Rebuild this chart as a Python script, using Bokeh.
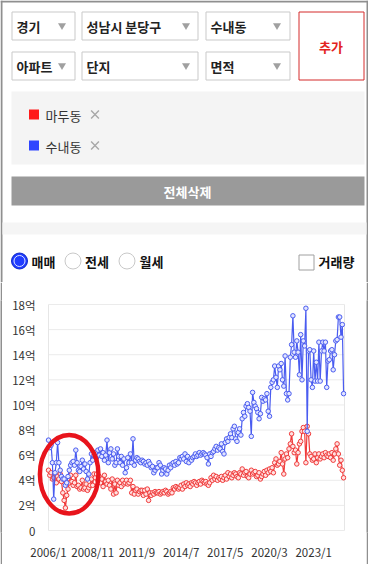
from bokeh.plotting import figure
from bokeh.models import Range1d
from bokeh.layouts import column, row
from bokeh.embed import file_html
from bokeh.resources import INLINE
from bokeh.core.properties import value

FONT = "Noto Sans CJK KR"

# ---------------- data ----------------
SERIES_NAMES = ["마두동", "수내동"]
SERIES_COLORS = ["#ff1a1a", "#2f45ff"]
LINE_COLORS = ["#f03a3a", "#4a5cf0"]

MONTH_TICKS = [0, 34, 68, 102, 136, 170, 204]
MONTH_LABELS = ["2006/1", "2008/11", "2011/9", "2014/7", "2017/5", "2020/3", "2023/1"]
Y_TICKS = [0, 2, 4, 6, 8, 10, 12, 14, 16, 18]
Y_LABELS = ["0", "2억", "4억", "6억", "8억", "10억", "12억", "14억", "16억", "18억"]

# 마두동 (red), monthly from 2006/1, unit: 억
madu = [
    4.8, 4.4, 4.6, 4.1, 4.2, 4.5, 3.8, 4.3, 4.1, 4.5, 3.9, 3.0,
    2.4, 1.8, 2.8, 3.3, 3.8, 4.4, 3.9, 3.6, 3.8, 4.4, 3.5, 3.6,
    3.3, 3.4, 4.0, 3.3, 3.4, 3.7, 3.2, 3.4, 3.6, 4.1, 3.6, 4.5,
    4.2, 4.5, 4.0, 4.3, 3.8, 4.1, 3.5, 4.4, 3.9, 3.7, 4.0, 3.6,
    3.3, 4.1, 2.9, 3.7, 3.0, 4.0, 3.6, 3.8, 3.5, 4.0, 3.7, 3.8,
    4.0, 3.7, 3.8, 4.0, 3.0, 3.5, 2.9, 3.2, 3.3, 2.9, 3.1, 3.2,
    3.2, 2.8, 3.2, 2.9, 3.3, 2.4, 3.0, 2.8, 3.0, 2.9, 3.1, 3.0,
    3.0, 3.1, 2.9, 3.0, 3.1, 3.0, 3.2, 3.1, 2.9, 3.0, 3.1, 3.0,
    3.4, 3.3, 3.5, 3.4, 3.3, 3.4, 3.6, 3.3, 3.7, 3.5, 3.8, 3.6,
    3.7, 3.5, 3.8, 3.7, 3.9, 3.8, 3.6, 3.8, 3.9, 3.7, 4.0, 3.9,
    3.8, 3.9, 3.7, 3.6, 3.8, 4.2, 4.0, 4.4, 4.1, 4.3, 4.0, 4.2,
    4.1, 4.3, 4.0, 4.2, 4.4, 4.1, 4.6, 4.3, 4.5, 4.2, 4.4, 4.6,
    4.5, 4.3, 4.2, 4.6, 4.5, 4.9, 4.4, 4.6, 4.7, 4.3, 4.2, 4.5,
    4.8, 4.5, 4.6, 4.7, 4.3, 4.4, 4.6, 4.1, 4.3, 4.5, 4.7, 4.4,
    4.8, 4.6, 4.9, 4.7, 5.0, 4.6, 5.4, 5.7, 5.2, 5.3, 5.5, 6.2,
    5.3, 4.5, 5.7, 6.1, 5.8, 6.5, 6.9, 7.7, 6.7, 6.2, 6.4, 5.3,
    6.2, 6.9, 7.1, 7.9, 8.2, 7.9, 5.4, 8.3, 7.7, 6.1, 5.9, 5.6,
    5.7, 6.1, 5.4, 5.8, 6.1, 5.7, 5.9, 6.1, 5.8, 6.2, 6.0, 5.9,
    6.1, 5.8, 6.2, 5.6, 6.1, 6.5, 6.9, 6.1, 5.2, 5.6, 4.8, 4.2,
]

# 수내동 (blue), monthly from 2006/1, unit: 억
sunae = [
    7.2, 6.6, 6.8, 5.4, 2.5, 4.6, 5.4, 7.0, 5.4, 4.8, 4.3, 4.1,
    4.1, 3.6, 3.8, 4.3, 4.8, 5.2, 5.4, 5.5, 5.2, 6.4, 5.4, 4.8,
    4.7, 5.1, 5.6, 4.9, 5.3, 4.7, 4.1, 4.5, 5.4, 6.1, 5.6, 6.0,
    6.2, 5.8, 6.4, 6.0, 6.5, 5.9, 6.2, 5.6, 6.0, 7.2, 5.4, 6.2,
    6.5, 5.7, 6.1, 5.2, 5.4, 6.5, 5.9, 5.4, 5.9, 5.2, 5.7, 4.6,
    5.0, 5.8, 5.4, 6.1, 5.4, 7.3, 5.2, 5.6, 5.8, 5.7, 5.5, 5.4,
    5.6, 5.5, 5.3, 5.4, 5.2, 5.5, 5.3, 5.0, 5.1, 4.6, 4.8, 5.0,
    5.0, 5.4, 5.2, 4.5, 4.8, 5.0, 4.9, 4.5, 4.8, 5.2, 5.0, 5.3,
    5.4, 5.2, 5.5, 5.3, 5.4, 5.8, 5.7, 5.9, 5.7, 6.1, 5.5, 5.9,
    5.4, 5.7, 5.6, 5.8, 5.9, 6.1, 5.9, 6.0, 6.2, 6.0, 6.1, 6.2,
    6.1, 6.0, 5.8, 5.3, 6.1, 5.9, 6.2, 6.3, 6.5, 6.7, 6.4, 6.6,
    6.5, 6.9, 6.3, 6.1, 7.0, 7.3, 7.1, 7.4, 7.7, 7.4, 8.1, 8.3,
    7.3, 7.1, 7.8, 8.1, 7.6, 8.9, 9.4, 9.1, 9.9, 10.1, 9.8, 9.5,
    7.5, 11.0, 10.2, 9.9, 9.7, 9.4, 8.9, 9.3, 10.6, 10.3, 10.5, 10.4,
    10.9, 9.5, 9.1, 11.4, 11.8, 12.0, 13.1, 12.2, 11.4, 13.1, 12.8, 13.3,
    12.0, 11.5, 13.9, 10.9, 10.4, 10.9, 13.8, 14.8, 17.1, 14.2, 13.8, 15.1,
    14.2, 12.4, 15.6, 12.0, 15.1, 14.7, 17.7, 7.9, 14.3, 14.4, 12.0, 11.4,
    14.3, 11.9, 13.4, 11.9, 15.0, 11.9, 14.3, 15.0, 14.3, 15.0, 11.4, 13.5,
    13.6, 14.3, 14.4, 12.8, 14.0, 15.1, 15.2, 17.0, 17.0, 15.4, 16.4, 10.9,
]
months = list(range(len(madu)))

DROPDOWN_TEXTS = ["경기", "성남시 분당구", "수내동", "아파트", "단지", "면적"]
RADIO_TEXTS = ["매매", "전세", "월세"]
CHECK_TEXT = "거래량"
ADD_TEXT = "추가"
CLEAR_TEXT = "전체삭제"

# ---------------- page geometry (page pixel coordinates) ----------------
PAGE_L, PAGE_T = 8, 8          # body margin
TOTAL_W, TOTAL_H = 368, 566
SPLIT_Y = 290                  # page y where the chart figure starts
STRIP = 2                      # outer panel border thickness
BORDER_COLOR = "#8f8f8f"

H_TOP = SPLIT_Y - PAGE_T
H_CHART = TOTAL_H - H_TOP - STRIP
W_CHART = TOTAL_W - 2 * STRIP


def bare(width, height, fill):
    f = figure(width=width, height=height, x_axis_type=None, y_axis_type=None,
               output_backend="svg", toolbar_location=None, min_border=0, title=None)
    f.grid.visible = False
    f.outline_line_color = None
    f.background_fill_color = fill
    f.border_fill_color = fill
    return f


# ---------------- top panel ----------------
ui = figure(width=TOTAL_W, height=H_TOP,
            x_range=Range1d(PAGE_L, PAGE_L + TOTAL_W), y_range=Range1d(SPLIT_Y, PAGE_T),
            x_axis_type=None, y_axis_type=None, output_backend="svg",
            toolbar_location=None, min_border=0, title=None)
ui.grid.visible = False
ui.outline_line_color = None
ui.background_fill_color = "white"
ui.border_fill_color = "white"

# outer panel border (left, right, top)
ui.quad(left=[PAGE_L, PAGE_L + TOTAL_W - STRIP, PAGE_L],
        right=[PAGE_L + STRIP, PAGE_L + TOTAL_W, PAGE_L + TOTAL_W],
        top=[PAGE_T, PAGE_T, PAGE_T], bottom=[SPLIT_Y, SPLIT_Y, PAGE_T + STRIP],
        fill_color=BORDER_COLOR, line_color=None)

# dropdown boxes
dd_left = [19, 89, 213, 19, 89, 213]
dd_right = [82, 205, 297, 82, 205, 297]
dd_top = [19, 19, 19, 59, 59, 59]
dd_bot = [47, 47, 47, 87, 87, 87]
ui.quad(left=[v + 0.5 for v in dd_left], right=[v + 0.5 for v in dd_right],
        top=[v + 0.5 for v in dd_top], bottom=[v + 0.5 for v in dd_bot],
        fill_color="white", line_color="#c9c9c9", line_width=1)
dd_text_x = [v + 5 for v in dd_left]
dd_text_y = [(t + b) / 2 + 0.5 for t, b in zip(dd_top, dd_bot)]
ui.text(x=dd_text_x, y=dd_text_y, text=DROPDOWN_TEXTS, text_font=value(FONT),
        text_font_size="13px", text_font_style="bold", text_color="#222222",
        text_baseline="middle", text_align="left")
tri_x = [69.5, 193.5, 284.5, 69.5, 193.5, 284.5]
ui.scatter(x=tri_x, y=[(t + b) / 2 for t, b in zip(dd_top, dd_bot)], marker="inverted_triangle",
           size=8, fill_color="#a0a0a0", line_color=None)

# add button
ui.quad(left=[306.5], right=[371.5], top=[19.5], bottom=[87.5],
        fill_color="white", line_color="#d42a2a", line_width=1)
ui.text(x=[338.5], y=[53.5], text=[ADD_TEXT], text_font=value(FONT), text_font_size="13px",
        text_font_style="bold", text_color="#e3231e", text_baseline="middle", text_align="center")

# legend panel
ui.quad(left=[19], right=[372], top=[99], bottom=[172], fill_color="#f4f4f4", line_color=None)
leg_y = [122, 153]
ui.scatter(x=[41.5, 41.5], y=leg_y, marker="square", size=10,
           fill_color=SERIES_COLORS, line_color=None)
ui.text(x=[53, 53], y=[v + 0.5 for v in leg_y], text=SERIES_NAMES, text_font=value(FONT),
        text_font_size="13px", text_color="#333333", text_baseline="middle", text_align="left")
ui.scatter(x=[102.5, 102.5], y=leg_y, marker="x", size=11, line_color="#a8a8a8", line_width=1.4)

# clear-all button
ui.quad(left=[19], right=[372], top=[184], bottom=[213], fill_color="#9a9a9a", line_color=None)
ui.text(x=[195], y=[199], text=[CLEAR_TEXT], text_font=value(FONT), text_font_size="13px",
        text_font_style="bold", text_color="white", text_baseline="middle", text_align="center")

# separator band
ui.quad(left=[PAGE_L + STRIP], right=[PAGE_L + TOTAL_W - STRIP], top=[230], bottom=[242],
        fill_color="#f5f5f5", line_color=None)

# radios
radio_x = [27, 80.5, 134.5]
radio_y = 268.5
ui.scatter(x=radio_x[1:], y=[radio_y] * 2, size=16, fill_color="white",
           line_color="#c8c8c8", line_width=1)
ui.scatter(x=radio_x[:1], y=[radio_y], size=16, fill_color="#1f3cff",
           line_color="#1029c8", line_width=1)
ui.scatter(x=radio_x[:1], y=[radio_y], size=11, fill_color=None,
           line_color="#dfe4ff", line_width=1)
ui.text(x=[39, 92.5, 147], y=[radio_y] * 3, text=RADIO_TEXTS, text_font=value(FONT),
        text_font_size="13px", text_font_style="bold", text_color="#111111",
        text_baseline="middle", text_align="left")

# checkbox
ui.quad(left=[306.5], right=[321.5], top=[262.5], bottom=[277.5],
        fill_color="white", line_color="#a0a0a0", line_width=1)
ui.text(x=[326], y=[radio_y], text=[CHECK_TEXT], text_font=value(FONT),
        text_font_size="13px", text_font_style="bold", text_color="#111111",
        text_baseline="middle", text_align="left")

# ---------------- chart ----------------
X0_PX = 56          # page x of first month
PX_PER_MONTH = 1.3
FRAME_L, FRAME_R = 44, 354
Y0_PX, Y18_PX = 538, 312
PX_PER_UNIT = (Y0_PX - Y18_PX) / 18.0
FRAME_T, FRAME_B = 308, 540
X_END = (352 - X0_PX) / PX_PER_MONTH
CHART_L = PAGE_L + STRIP                 # page x of chart figure's left edge
CHART_R = PAGE_L + TOTAL_W - STRIP
CHART_B = SPLIT_Y + H_CHART

chart = figure(width=W_CHART, height=H_CHART, title=None,
               x_range=Range1d((FRAME_L - X0_PX) / PX_PER_MONTH, (FRAME_R - X0_PX) / PX_PER_MONTH),
               y_range=Range1d(-(FRAME_B - Y0_PX) / PX_PER_UNIT, 18 + (Y18_PX - FRAME_T) / PX_PER_UNIT),
               output_backend="svg", toolbar_location=None,
               min_border_left=FRAME_L - CHART_L, min_border_right=CHART_R - FRAME_R,
               min_border_top=FRAME_T - SPLIT_Y, min_border_bottom=CHART_B - FRAME_B)
chart.outline_line_color = None
chart.xgrid.visible = False
chart.ygrid.visible = False
chart.background_fill_color = "white"
chart.border_fill_color = "white"

for ax in (chart.xaxis[0], chart.yaxis[0]):
    ax.axis_line_color = None
    ax.major_tick_line_color = None
    ax.minor_tick_line_color = None
    ax.major_tick_out = 0
    ax.major_tick_in = 0
    ax.minor_tick_out = 0
    ax.major_label_text_font = FONT
    ax.major_label_text_font_size = "11.5px"
    ax.major_label_text_color = "#333333"

chart.yaxis.ticker = Y_TICKS
chart.yaxis.major_label_overrides = dict(zip(Y_TICKS, Y_LABELS))
chart.yaxis.major_label_standoff = 1
chart.xaxis.ticker = MONTH_TICKS
chart.xaxis.major_label_overrides = dict(zip(MONTH_TICKS, MONTH_LABELS))
chart.xaxis.major_label_standoff = 11

# grid lines and plot border (only within the plot area)
chart.segment(x0=[0] * len(Y_TICKS), x1=[X_END] * len(Y_TICKS), y0=Y_TICKS, y1=Y_TICKS,
              line_color="#ebebeb", line_width=1)
chart.segment(x0=[0, X_END], x1=[0, X_END], y0=[0, 0], y1=[18, 18],
              line_color="#e6e6e6", line_width=1)

for vals, lc, fc in ((madu, LINE_COLORS[0], "#ffe0e0"), (sunae, LINE_COLORS[1], "#e2e5ff")):
    chart.line(months, vals, line_color=lc, line_width=1.2)
    chart.scatter(months, vals, size=4.5, marker="circle", line_color=lc,
                  fill_color=fc, line_width=1)

# red highlight ellipse (annotation)
ELL_X, ELL_Y, ELL_W, ELL_H = 15.9, 4.48, 45.0, 6.25
chart.ellipse(x=[ELL_X], y=[ELL_Y], width=ELL_W, height=ELL_H, fill_color=None,
              line_color="#e8141c", line_width=4.5)

left_strip = bare(STRIP, H_CHART, BORDER_COLOR)
right_strip = bare(STRIP, H_CHART, BORDER_COLOR)
bottom_strip = bare(TOTAL_W, STRIP, BORDER_COLOR)

layout = column(ui, row(left_strip, chart, right_strip, spacing=0), bottom_strip, spacing=0)

open("out.html", "w").write(file_html(layout, INLINE))
